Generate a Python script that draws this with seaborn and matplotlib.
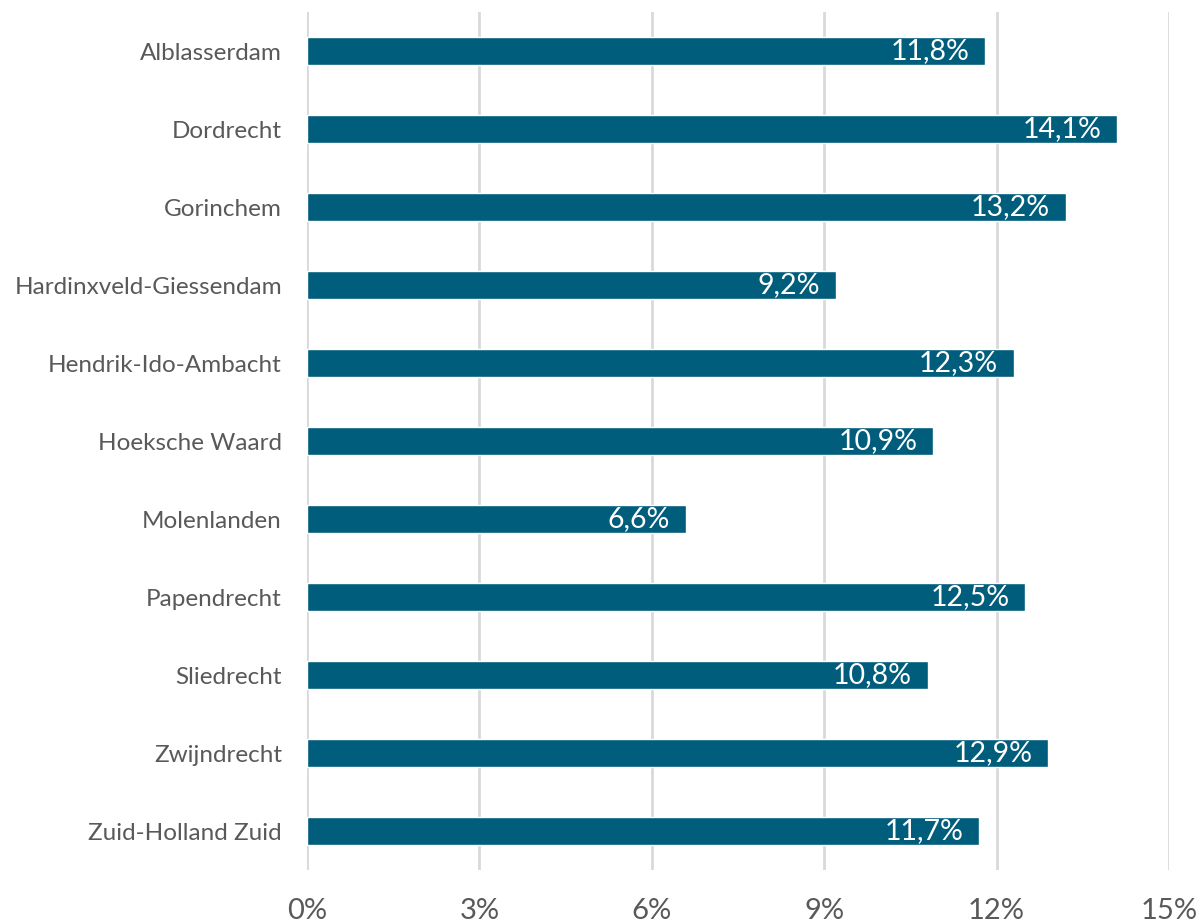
import matplotlib
matplotlib.use("Agg")
import matplotlib.pyplot as plt
import seaborn as sns
import pandas as pd

gemeenten = [
    "Alblasserdam", "Dordrecht", "Gorinchem", "Hardinxveld-Giessendam",
    "Hendrik-Ido-Ambacht", "Hoeksche Waard", "Molenlanden", "Papendrecht",
    "Sliedrecht", "Zwijndrecht", "Zuid-Holland Zuid",
]
percentages = [11.8, 14.1, 13.2, 9.2, 12.3, 10.9, 6.6, 12.5, 10.8, 12.9, 11.7]
x_ticks = [0, 3, 6, 9, 12, 15]

df = pd.DataFrame({"gemeente": gemeenten, "pct": percentages})

sns.set_style("white")
plt.rcParams["font.family"] = ["Lato", "DejaVu Sans"]

fig = plt.figure(figsize=(12, 9.24), dpi=100)
ax = fig.add_axes([0.2558, 0.0584, 0.7184, 0.9286])

bar_color = "#005D7B"
sns.barplot(data=df, x="pct", y="gemeente", color=bar_color, width=0.36,
            saturation=1, ax=ax, zorder=3)

ax.set_xlim(0, 15)
ax.set_ylim(10.5, -0.5)
ax.set_xticks(x_ticks)
ax.set_xticklabels([f"{t}%" for t in x_ticks])
ax.grid(axis="x", color="#D9D9D9", linewidth=2, zorder=0)
ax.grid(axis="y", visible=False)
for s in ax.spines.values():
    s.set_visible(False)
ax.tick_params(axis="x", length=0, pad=20, labelsize=21, labelcolor="#595959")
ax.tick_params(axis="y", length=0, pad=18, labelsize=17.5, labelcolor="#595959")
ax.set_xlabel("")
ax.set_ylabel("")

for i, v in enumerate(percentages):
    ax.annotate(f"{v:.1f}%".replace(".", ","), xy=(v, i), xytext=(-16, 0),
                textcoords="offset pixels", ha="right", va="center",
                color="white", fontsize=20.5, zorder=4)

fig.savefig("out.png", dpi=100)
